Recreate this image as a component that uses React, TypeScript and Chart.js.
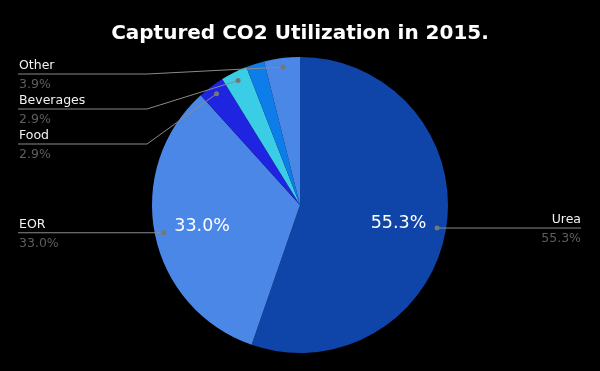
import React, { useEffect, useRef } from "react";
import { Chart, registerables } from "chart.js";

Chart.register(...registerables);

const categories = ["Urea", "EOR", "Food", "Beverages", "Refrigeration", "Other"];
const values = [55.3, 33.0, 2.9, 2.9, 2.0, 3.9];
const colors = ["#0f44a8", "#4b87e6", "#1f24e0", "#3ccde6", "#0c7de9", "#4b87e6"];
const showOuterLabel = [true, true, true, true, false, true];
const showInnerLabel = [true, true, false, false, false, false];
const titleText = "Captured CO2 Utilization in 2015.";

const FONT = "'DejaVu Sans', sans-serif";

const labelPlugin = {
  id: "pieLabels",
  afterDatasetsDraw(chart: any) {
    const ctx = chart.ctx;
    const meta = chart.getDatasetMeta(0);
    const total = values.reduce((a, b) => a + b, 0);
    type L = { i: number; dx: number; dy: number; y: number; left: boolean };
    const items: L[] = [];
    meta.data.forEach((arc: any, i: number) => {
      const { x, y, startAngle, endAngle, outerRadius } = arc.getProps(
        ["x", "y", "startAngle", "endAngle", "outerRadius"],
        true
      );
      const mid = (startAngle + endAngle) / 2;
      const pct = ((values[i] / total) * 100).toFixed(1) + "%";
      if (showInnerLabel[i]) {
        const r = outerRadius * 0.675;
        ctx.save();
        ctx.fillStyle = "#ffffff";
        ctx.font = `17.5px ${FONT}`;
        ctx.textAlign = "center";
        ctx.textBaseline = "middle";
        ctx.fillText(pct, x + Math.cos(mid) * r, y + Math.sin(mid) * r + 1.5);
        ctx.restore();
      }
      if (showOuterLabel[i]) {
        const r = outerRadius - 9;
        const dx = x + Math.cos(mid) * r;
        const dy = y + Math.sin(mid) * r;
        items.push({ i, dx, dy, y: dy, left: dx < x });
      }
    });
    const left = items.filter((d) => d.left).sort((a, b) => a.dy - b.dy);
    let prev = 39;
    left.forEach((d) => {
      d.y = Math.max(d.dy, prev + 35);
      prev = d.y;
    });
    items.forEach((d) => {
      const pct = ((values[d.i] / total) * 100).toFixed(1) + "%";
      ctx.save();
      ctx.strokeStyle = "#8a8a8a";
      ctx.lineWidth = 1;
      ctx.beginPath();
      ctx.moveTo(d.dx, d.dy);
      if (d.left) {
        if (Math.abs(d.y - d.dy) > 1) ctx.lineTo(147, d.y);
        ctx.lineTo(18, d.y);
      } else {
        ctx.lineTo(581, d.y);
      }
      ctx.stroke();
      ctx.fillStyle = "#777777";
      ctx.beginPath();
      ctx.arc(d.dx, d.dy, 2.5, 0, Math.PI * 2);
      ctx.fill();
      ctx.font = `12.5px ${FONT}`;
      ctx.textBaseline = "middle";
      ctx.textAlign = d.left ? "left" : "right";
      const tx = d.left ? 19 : 581;
      ctx.fillStyle = "#f2f2f2";
      ctx.fillText(categories[d.i], tx, d.y - 8.5);
      ctx.fillStyle = "#5e5e5e";
      ctx.fillText(pct, tx, d.y + 11);
      ctx.restore();
    });
  },
};

export default function App() {
  const ref = useRef<HTMLCanvasElement>(null);
  useEffect(() => {
    document.body.style.margin = "0";
    document.body.style.background = "#000";
    const chart = new Chart(ref.current!, {
      type: "pie",
      data: {
        labels: categories,
        datasets: [
          {
            data: values,
            backgroundColor: colors,
            borderWidth: 0,
            hoverOffset: 0,
          },
        ],
      },
      options: {
        animation: false,
        responsive: false,
        maintainAspectRatio: false,
        layout: { padding: { top: 0, bottom: 18, left: 0, right: 0 } },
        plugins: {
          legend: { display: false },
          tooltip: { enabled: false },
          title: {
            display: true,
            text: titleText,
            color: "#ffffff",
            font: { family: FONT, size: 20, weight: "bold", lineHeight: 1.2 },
            padding: { top: 22, bottom: 11 },
          },
        },
      },
      plugins: [labelPlugin],
    });
    return () => chart.destroy();
  }, []);
  return (
    <div style={{ width: 600, height: 371, background: "#000" }}>
      <canvas ref={ref} width={600} height={371} style={{ display: "block" }} />
    </div>
  );
}
